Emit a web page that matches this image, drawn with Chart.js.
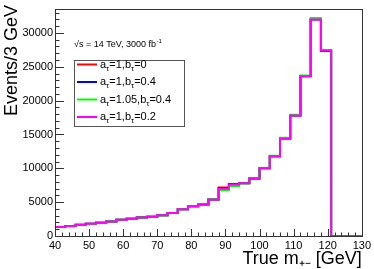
<!DOCTYPE html>
<html>
<head>
<meta charset="utf-8">
<script src="https://cdn.jsdelivr.net/npm/chart.js@4"></script>
<style>
  html, body { margin: 0; padding: 0; background: #fff; }
  #wrap { width: 374px; height: 269px; }
</style>
</head>
<body>
<div id="wrap"><canvas id="myChart" width="374" height="269"></canvas></div>
<script>
// bin edges of the 3 GeV histogram (lower edges + last upper edge)
const binEdges = [40, 43, 46, 49, 52, 55, 58, 61, 64, 67, 70, 73, 76, 79, 82, 85, 88, 91, 94, 97,
  100, 103, 106, 109, 112, 115, 118, 121, 124, 127, 130];

// events per bin, one array per coupling point
const a1b0 = [1330, 1470, 1640, 1810, 1960, 2140, 2410, 2540, 2760, 2860, 3060, 3390, 3960, 4390, 4660,
  5380, 7150, 7700, 7820, 8480, 10050, 11780, 14450, 17850, 23650, 32050, 27350, 0, 0, 0];
const a1b04 = [1320, 1460, 1650, 1800, 1950, 2150, 2400, 2550, 2750, 2850, 3050, 3400, 3950, 4400, 4650,
  5400, 7050, 7650, 7800, 8500, 10000, 11800, 14400, 17800, 23600, 32000, 27400, 0, 0, 0];
const a105b04 = [1310, 1450, 1660, 1790, 1940, 2160, 2390, 2560, 2740, 2840, 3040, 3410, 3940, 4410, 4640,
  5420, 6800, 7400, 7750, 8520, 10020, 11850, 14500, 17900, 23700, 32200, 27500, 0, 0, 0];
const a1b02 = [1320, 1460, 1650, 1800, 1950, 2150, 2400, 2550, 2750, 2850, 3050, 3400, 3950, 4400, 4650,
  5400, 7000, 7600, 7800, 8500, 10000, 11800, 14400, 17800, 23600, 32000, 27400, 0, 0, 0];

const xTickValues = [40, 50, 60, 70, 80, 90, 100, 110, 120, 130];
const yTickValues = [0, 5000, 10000, 15000, 20000, 25000, 30000];

const seriesLabels = ["a_τ=1,b_τ=0", "a_τ=1,b_τ=0.4", "a_τ=1.05,b_τ=0.4", "a_τ=1,b_τ=0.2"];
const seriesColors = ["#ff0000", "#0000ff", "#00ff00", "#ff00ff"];
const headerText = "√s = 14 TeV, 3000 fb";
const yTitle = "Events/3 GeV";
const xTitle = "True m₊₋ [GeV]";

const FONT = "'Liberation Sans', Arial, Helvetica, sans-serif";

function toSteps(vals) {
  return binEdges.map((x, i) => ({ x: x, y: vals[Math.min(i, vals.length - 1)] }));
}

// draws text where "_x" means x as subscript
function drawRich(ctx, text, x, y, size) {
  const parts = text.split(/(_.)/).filter((p) => p.length);
  parts.forEach((p) => {
    if (p[0] === "_") {
      ctx.font = Math.round(size * 0.7) + "px " + FONT;
      ctx.fillText(p[1], x, y + size * 0.3);
      x += ctx.measureText(p[1]).width;
    } else {
      ctx.font = size + "px " + FONT;
      ctx.fillText(p, x, y);
      x += ctx.measureText(p).width;
    }
  });
}

const rootStyle = {
  id: "rootStyle",
  afterDatasetsDraw(chart) {
    const ctx = chart.ctx;
    const a = chart.chartArea;
    const xs = chart.scales.x;
    const ys = chart.scales.y;
    ctx.save();
    ctx.strokeStyle = "#333";
    ctx.lineWidth = 1;
    ctx.strokeRect(Math.round(a.left) + 0.5, Math.round(a.top) + 0.5,
      Math.round(a.right - a.left), Math.round(a.bottom - a.top));

    // ticks pointing inside, like ROOT
    ctx.beginPath();
    for (let v = 40; v <= 130; v += 2) {
      const px = Math.round(xs.getPixelForValue(v)) + 0.5;
      const len = v % 10 === 0 ? 7 : 3.5;
      ctx.moveTo(px, a.bottom);
      ctx.lineTo(px, a.bottom - len);
    }
    for (let v = 0; v <= ys.max; v += 1000) {
      const py = Math.round(ys.getPixelForValue(v)) + 0.5;
      const len = v % 5000 === 0 ? 9 : 4.5;
      ctx.moveTo(a.left, py);
      ctx.lineTo(a.left + len, py);
    }
    ctx.stroke();

    // axis titles
    ctx.fillStyle = "#000";
    ctx.font = "18px " + FONT;
    ctx.textAlign = "right";
    ctx.textBaseline = "alphabetic";
    ctx.fillText(xTitle, a.right, 264);
    ctx.save();
    ctx.translate(17, 5);
    ctx.rotate(-Math.PI / 2);
    ctx.fillText(yTitle, 0, 0);
    ctx.restore();

    // header
    ctx.textAlign = "left";
    ctx.font = "9px " + FONT;
    ctx.fillText(headerText, 74, 47);
    const hw = ctx.measureText(headerText).width;
    ctx.font = "6px " + FONT;
    ctx.fillText("-1", 74 + hw + 0.5, 43);

    // legend box
    ctx.fillStyle = "#fff";
    ctx.fillRect(74.5, 60.5, 110, 66);
    ctx.strokeStyle = "#555";
    ctx.strokeRect(74.5, 60.5, 110, 66);
    const rowY = [64.5, 82, 99.5, 117];
    seriesLabels.forEach((lab, i) => {
      ctx.strokeStyle = seriesColors[i];
      ctx.lineWidth = 2;
      ctx.beginPath();
      ctx.moveTo(77, rowY[i]);
      ctx.lineTo(97, rowY[i]);
      ctx.stroke();
      ctx.fillStyle = "#000";
      ctx.textBaseline = "alphabetic";
      drawRich(ctx, lab, 100, rowY[i] + 3, 11);
    });
    ctx.restore();
  },
};

const datasets = seriesLabels.map((lab, i) => ({
  label: lab,
  data: toSteps([a1b0, a1b04, a105b04, a1b02][i]),
  borderColor: seriesColors[i],
  borderWidth: 2,
  stepped: "before",
  pointRadius: 0,
  fill: false,
  order: seriesLabels.length - i,
}));

const ctx = document.getElementById("myChart").getContext("2d");
const myChart = new Chart(ctx, {
  type: "line",
  data: { datasets: datasets },
  plugins: [rootStyle],
  options: {
    responsive: false,
    animation: false,
    layout: { padding: { left: 0, right: 10, top: 6, bottom: 0 } },
    plugins: { legend: { display: false }, tooltip: { enabled: false } },
    scales: {
      x: {
        type: "linear",
        min: 40,
        max: 130,
        grid: { display: false, drawTicks: false },
        border: { display: false },
        afterFit: (s) => { s.height = 33; },
        afterBuildTicks: (s) => { s.ticks = xTickValues.map((v) => ({ value: v })); },
        ticks: {
          maxRotation: 0,
          autoSkip: false,
          padding: 3,
          color: "#000",
          font: { family: FONT, size: 11 },
          callback: (v) => String(v),
        },
      },
      y: {
        min: 0,
        max: 33600,
        grid: { display: false, drawTicks: false },
        border: { display: false },
        afterFit: (s) => { s.width = 55; },
        afterBuildTicks: (s) => { s.ticks = yTickValues.map((v) => ({ value: v })); },
        ticks: {
          autoSkip: false,
          padding: 2,
          color: "#000",
          font: { family: FONT, size: 11 },
          callback: (v) => String(v),
        },
      },
    },
  },
});
</script>
</body>
</html>
